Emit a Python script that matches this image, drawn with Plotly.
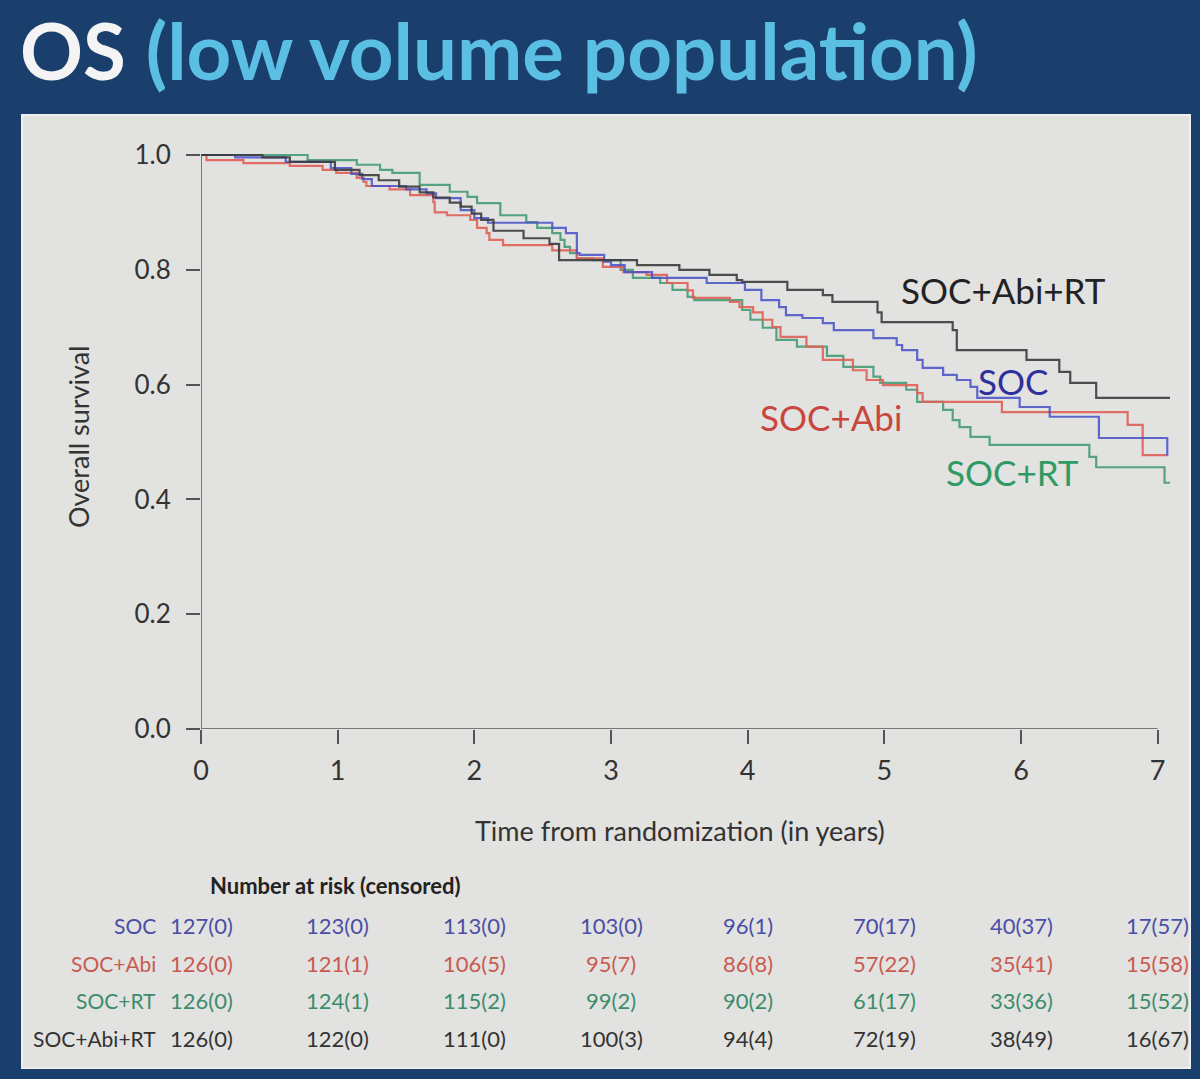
import plotly.graph_objects as go

# ---------------- data ----------------
soc_t = [0, 0.25, 0.62, 0.95, 1.10, 1.18, 1.25, 1.50, 1.65, 1.72, 1.90, 2.00, 2.10, 2.57, 2.67, 2.75, 2.77,
         2.95, 3.00, 3.10, 3.30, 3.70, 3.98, 4.10, 4.23, 4.28, 4.40, 4.55, 4.63, 4.92, 5.09, 5.13, 5.24, 5.28,
         5.43, 5.53, 5.63, 5.68, 5.99, 6.21, 6.57, 7.07]
soc_s = [1.0, 0.996, 0.988, 0.977, 0.967, 0.958, 0.946, 0.940, 0.933, 0.925, 0.904, 0.890, 0.882, 0.873, 0.864,
         0.829, 0.826, 0.814, 0.808, 0.796, 0.786, 0.777, 0.765, 0.747, 0.735, 0.721, 0.716, 0.707, 0.695, 0.681,
         0.669, 0.660, 0.643, 0.629, 0.617, 0.608, 0.596, 0.577, 0.561, 0.544, 0.507, 0.476]

abi_t = [0, 0.04, 0.31, 0.65, 0.89, 0.99, 1.14, 1.19, 1.21, 1.38, 1.53, 1.70, 1.71, 1.80, 1.97, 2.02, 2.09,
         2.11, 2.21, 2.57, 2.75, 2.94, 3.09, 3.26, 3.41, 3.56, 3.60, 3.87, 3.94, 4.04, 4.11, 4.18, 4.24, 4.43,
         4.55, 4.77, 4.87, 4.99, 5.24, 5.28, 5.86, 6.78, 6.89, 7.07]
abi_s = [1.0, 0.991, 0.986, 0.981, 0.974, 0.969, 0.960, 0.953, 0.946, 0.940, 0.930, 0.918, 0.900, 0.895, 0.887,
         0.873, 0.864, 0.852, 0.843, 0.834, 0.820, 0.805, 0.796, 0.791, 0.777, 0.764, 0.751, 0.744, 0.735, 0.726,
         0.713, 0.700, 0.683, 0.666, 0.643, 0.625, 0.608, 0.599, 0.585, 0.570, 0.552, 0.530, 0.477, 0.477]

rt_t = [0, 0.78, 1.14, 1.31, 1.40, 1.60, 1.82, 1.95, 2.02, 2.19, 2.38, 2.46, 2.57, 2.63, 2.66, 2.70, 2.75, 2.87,
        3.07, 3.16, 3.36, 3.45, 3.56, 3.61, 3.96, 4.02, 4.11, 4.21, 4.36, 4.58, 4.70, 4.92, 4.97, 5.16, 5.24,
        5.43, 5.50, 5.55, 5.63, 5.77, 6.50, 6.55, 7.05, 7.09]
rt_s = [1.0, 0.991, 0.983, 0.974, 0.969, 0.948, 0.936, 0.927, 0.916, 0.895, 0.883, 0.873, 0.864, 0.852, 0.840,
        0.829, 0.820, 0.817, 0.800, 0.786, 0.777, 0.765, 0.753, 0.747, 0.730, 0.713, 0.699, 0.678, 0.666, 0.650,
        0.631, 0.614, 0.603, 0.591, 0.570, 0.556, 0.538, 0.526, 0.509, 0.495, 0.474, 0.456, 0.429, 0.429]

abirt_t = [0, 0.45, 0.65, 0.98, 1.16, 1.30, 1.45, 1.60, 1.70, 1.82, 1.90, 1.98, 2.05, 2.14, 2.36, 2.55, 2.62,
           3.19, 3.50, 3.72, 3.92, 3.96, 4.29, 4.55, 4.62, 4.95, 4.98, 5.50, 5.53, 6.04, 6.28, 6.36, 6.55, 7.09]
abirt_s = [1.0, 0.996, 0.988, 0.974, 0.965, 0.956, 0.945, 0.935, 0.926, 0.917, 0.910, 0.898, 0.887, 0.868, 0.855,
           0.845, 0.817, 0.808, 0.800, 0.791, 0.782, 0.779, 0.765, 0.756, 0.744, 0.726, 0.709, 0.695, 0.660,
           0.643, 0.622, 0.603, 0.577, 0.577]

arms = ["SOC", "SOC+Abi", "SOC+RT", "SOC+Abi+RT"]
risk_times = [0, 1, 2, 3, 4, 5, 6, 7]
at_risk = {
    "SOC":        [127, 123, 113, 103, 96, 70, 40, 17],
    "SOC+Abi":    [126, 121, 106, 95, 86, 57, 35, 15],
    "SOC+RT":     [126, 124, 115, 99, 90, 61, 33, 15],
    "SOC+Abi+RT": [126, 122, 111, 100, 94, 72, 38, 16],
}
censored = {
    "SOC":        [0, 0, 0, 0, 1, 17, 37, 57],
    "SOC+Abi":    [0, 1, 5, 7, 8, 22, 41, 58],
    "SOC+RT":     [0, 1, 2, 2, 2, 17, 36, 52],
    "SOC+Abi+RT": [0, 0, 0, 3, 4, 19, 49, 67],
}
x_ticks = [0, 1, 2, 3, 4, 5, 6, 7]
y_ticks = [0.0, 0.2, 0.4, 0.6, 0.8, 1.0]

# ---------------- styling ----------------
FONT = "Lato"
NAVY = "#1a3f6c"
PANEL = "#e2e2e0"
line_col = {"SOC": "rgba(70,80,200,0.85)", "SOC+Abi": "rgba(225,95,85,0.9)",
            "SOC+RT": "rgba(60,150,110,0.85)", "SOC+Abi+RT": "rgba(60,60,60,0.9)"}
text_col = {"SOC": "#2e2f9c", "SOC+Abi": "#c9463d", "SOC+RT": "#2f9a63", "SOC+Abi+RT": "#222222"}
table_col = {"SOC": "#4a4ea6", "SOC+Abi": "#c95a50", "SOC+RT": "#3c8c6c", "SOC+Abi+RT": "#333333"}

curves = {"SOC+RT": (rt_t, rt_s), "SOC+Abi": (abi_t, abi_s), "SOC": (soc_t, soc_s),
          "SOC+Abi+RT": (abirt_t, abirt_s)}

fig = go.Figure()
for name, (t, s) in curves.items():
    fig.add_trace(go.Scatter(x=t, y=s, mode="lines", line=dict(shape="hv", width=2.2, color=line_col[name]),
                             name=name, showlegend=False, hoverinfo="skip"))

# geometry (pixels)
L, R, T, B = 201, 30, 144, 350
W = 1200 - L - R
H = 1079 - T - B
def px(xp): return (xp - L) / W
def py(yp): return (1079 - B - yp) / H

fig.update_layout(
    width=1200, height=1079,
    margin=dict(l=L, r=R, t=T, b=B),
    paper_bgcolor=NAVY, plot_bgcolor=PANEL,
    font=dict(family=FONT, color="#333333"),
)
fig.update_xaxes(range=[0, 7.09], tickvals=x_ticks, ticktext=[str(v) for v in x_ticks],
                 ticks="outside", ticklen=14, tickwidth=1.5, tickcolor="#555555",
                 showgrid=False, zeroline=False, showline=False,
                 tickfont=dict(family=FONT, size=27, color="#333333"), ticklabelstandoff=4)
fig.update_yaxes(range=[0, H / 574], tickvals=y_ticks, ticktext=[f"{v:.1f}" for v in y_ticks],
                 ticks="outside", ticklen=14, tickwidth=1.5, tickcolor="#555555",
                 showgrid=False, zeroline=False, showline=False,
                 tickfont=dict(family=FONT, size=26, color="#333333"), ticklabelstandoff=10)

shapes = [
    dict(type="rect", xref="paper", yref="paper", x0=px(22), x1=px(1190), y0=py(1068), y1=py(115),
         fillcolor=PANEL, line=dict(color="#eeeeee", width=2), layer="below"),
    dict(type="line", xref="x", yref="y", x0=0, x1=7, y0=0, y1=0, line=dict(color="#555555", width=1.5)),
    dict(type="line", xref="x", yref="y", x0=0, x1=0, y0=0, y1=1, line=dict(color="#555555", width=1.5)),
]
fig.update_layout(shapes=shapes)

def note(x, y, text, size, color, xanchor="center", xref="paper", angle=0, yanchor="middle"):
    return dict(xref=xref, yref="paper", x=x, y=y, xanchor=xanchor, yanchor=yanchor, showarrow=False,
                text=text, textangle=angle, font=dict(family=FONT, size=size, color=color))

ann = []
# title
ann.append(note(px(18), py(50), "<b>OS</b> <b><span style='color:#5bbfe3'>(low volume population)</span></b>",
                78, "#f4f4f4", xanchor="left"))
# axis titles
ann.append(note(px(680), py(830), "Time from randomization (in years)", 27, "#333333"))
ann.append(note(px(78), py(437), "Overall survival", 27, "#333333", angle=-90))
# curve labels
labels = {"SOC+Abi+RT": (1003, 290), "SOC": (1013, 381), "SOC+Abi": (831, 417), "SOC+RT": (1012, 472)}
for name, (lx, ly) in labels.items():
    ann.append(note(px(lx), py(ly), name, 35, text_col[name]))
# risk table
ann.append(note(px(335), py(885), "<b>Number at risk (censored)</b>", 22, "#222222"))
row_y = {"SOC": 925, "SOC+Abi": 963, "SOC+RT": 1000, "SOC+Abi+RT": 1038}
for name in arms:
    ann.append(note(px(158), py(row_y[name]), name, 21, table_col[name], xanchor="right"))
    for tt, n, c in zip(risk_times, at_risk[name], censored[name]):
        ann.append(note(tt, py(row_y[name]), f"{n}({c})", 22, table_col[name], xref="x"))
fig.update_layout(annotations=ann)

fig.write_html("out.html")
